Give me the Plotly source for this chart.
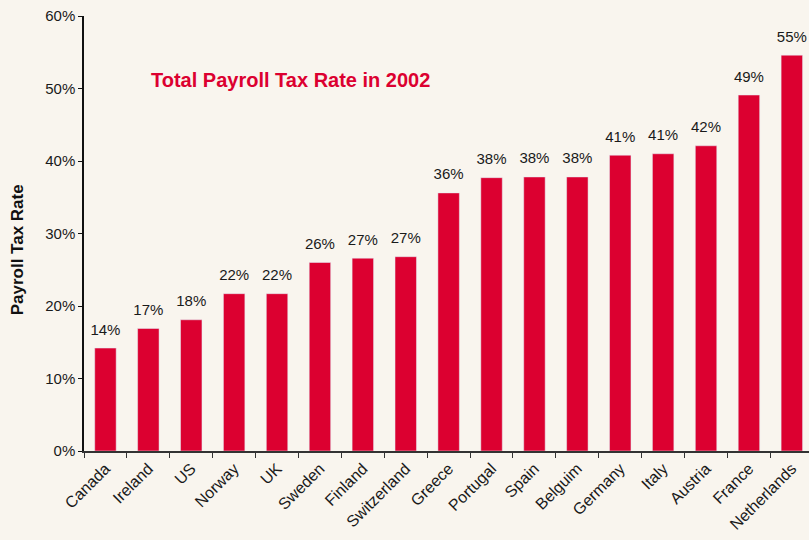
import plotly.graph_objects as go

countries = ["Canada", "Ireland", "US", "Norway", "UK", "Sweden", "Finland", "Switzerland",
             "Greece", "Portugal", "Spain", "Belguim", "Germany", "Italy", "Austria",
             "France", "Netherlands"]
rates = [14.2, 16.9, 18.1, 21.7, 21.7, 26.0, 26.6, 26.8, 35.6, 37.7, 37.8, 37.8,
         40.8, 41.0, 42.1, 49.1, 54.6]
labels = ["14%", "17%", "18%", "22%", "22%", "26%", "27%", "27%", "36%", "38%", "38%",
          "38%", "41%", "41%", "42%", "49%", "55%"]

BG = "#F9F5EE"
RED = "#DC0030"
FONT = "Liberation Sans, Arial, sans-serif"

fig = go.Figure()
fig.add_trace(go.Bar(x=countries, y=rates, marker_color=RED, width=0.5, hoverinfo="x+y"))
# value labels floated a little above the bars
fig.add_trace(go.Scatter(
    x=countries, y=rates, text=labels, mode="markers+text", textposition="top center",
    marker=dict(size=14, opacity=0), textfont=dict(size=15, color="#1a1a1a"),
    cliponaxis=False, hoverinfo="skip",
))

fig.update_layout(
    width=809, height=540,
    paper_bgcolor=BG, plot_bgcolor=BG,
    margin=dict(l=84, r=0, t=16, b=89),
    font=dict(family=FONT, color="#1a1a1a"),
    showlegend=False,
    annotations=[
        dict(text="<b>Total Payroll Tax Rate in 2002</b>", x=0.09, y=0.853,
             xref="paper", yref="paper", xanchor="left", yanchor="middle",
             showarrow=False, font=dict(size=20, color=RED, family=FONT)),
        dict(text="<b>Payroll Tax Rate</b>", x=-0.092, y=0.462, textangle=-90,
             xref="paper", yref="paper", xanchor="center", yanchor="middle",
             showarrow=False, font=dict(size=17, color="#111", family=FONT)),
    ],
)
fig.update_xaxes(
    range=[-0.5, 16.4], tickangle=-45, tickfont=dict(size=16),
    showline=True, linecolor="#333", linewidth=2, automargin=False,
    ticks="outside", tickson="boundaries", ticklen=5, tickcolor="#333",
    showgrid=False,
)
fig.update_yaxes(
    range=[0, 60], dtick=10, ticksuffix="%", tickfont=dict(size=15),
    showline=True, linecolor="#111", linewidth=1.5, automargin=False,
    ticks="outside", ticklen=4, tickcolor="#111", showgrid=False, zeroline=False,
)

fig.write_html("out.html", config={"displayModeBar": False},
               post_script="document.body.style.margin='0';")
